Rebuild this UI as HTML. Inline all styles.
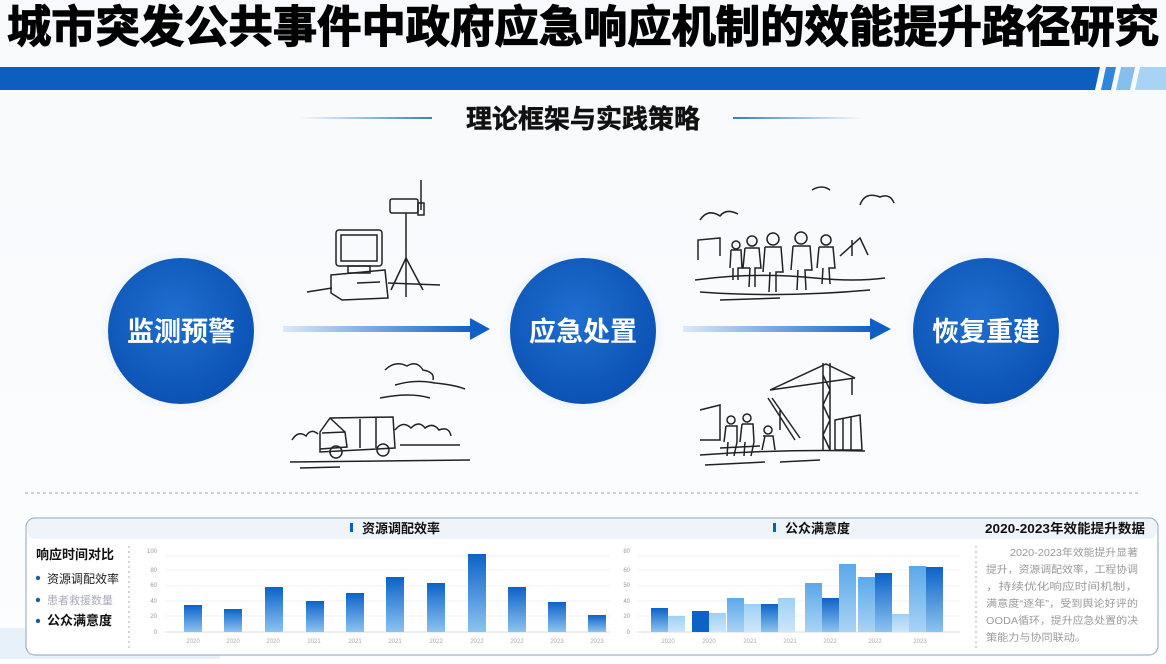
<!DOCTYPE html>
<html><head><meta charset="utf-8"><style>
html,body{margin:0;padding:0;background:#fff}
body{width:1166px;height:659px;overflow:hidden;font-family:"Liberation Sans","Noto Sans CJK SC",sans-serif}
</style></head><body>
<svg width="1166" height="659" viewBox="0 0 1166 659" xmlns="http://www.w3.org/2000/svg" font-family="'Liberation Sans','Noto Sans CJK SC',sans-serif">
<defs>
<linearGradient id="bg" x1="0" y1="0" x2="0" y2="1"><stop offset="0" stop-color="#f7f9fc"/><stop offset="1" stop-color="#fcfdfe"/></linearGradient>
<radialGradient id="glow" cx="0.5" cy="0.5" r="0.5"><stop offset="0.6" stop-color="#d6e6f7"/><stop offset="1" stop-color="#d6e6f7" stop-opacity="0"/></radialGradient>
<radialGradient id="circ" cx="0.45" cy="0.4" r="0.6"><stop offset="0" stop-color="#1f6fd0"/><stop offset="1" stop-color="#0b52b4"/></radialGradient>
<linearGradient id="arr" x1="0" x2="1"><stop offset="0" stop-color="#dbeaf8"/><stop offset="1" stop-color="#0f5fc4"/></linearGradient>
<linearGradient id="bar" x1="0" y1="0" x2="0" y2="1"><stop offset="0" stop-color="#0c62c8"/><stop offset="1" stop-color="#8cc3f0"/></linearGradient>
<linearGradient id="barL" x1="0" y1="0" x2="0" y2="1"><stop offset="0" stop-color="#9ed0f5"/><stop offset="1" stop-color="#cde6fa"/></linearGradient>
<linearGradient id="barM" x1="0" y1="0" x2="0" y2="1"><stop offset="0" stop-color="#5aa8ea"/><stop offset="1" stop-color="#a9d3f5"/></linearGradient>
<linearGradient id="hl" x1="0" x2="1"><stop offset="0" stop-color="#3a7cc8" stop-opacity="0"/><stop offset="1" stop-color="#3a7cc8"/></linearGradient>
<linearGradient id="hr" x1="0" x2="1"><stop offset="0" stop-color="#3a7cc8"/><stop offset="1" stop-color="#3a7cc8" stop-opacity="0"/></linearGradient>
</defs>
<rect width="1166" height="659" fill="url(#bg)"/>
<!-- title -->
<text x="583" y="42" text-anchor="middle" font-size="44" font-weight="bold" fill="#000" stroke="#000" stroke-width="1.2" textLength="1152" lengthAdjust="spacingAndGlyphs">城市突发公共事件中政府应急响应机制的效能提升路径研究</text>
<!-- blue bar -->
<polygon points="0,67 1100,67 1095,90 0,90" fill="#0c5fbf"/>
<polygon points="1106,67 1116,67 1111,90 1101,90" fill="#2f86dd"/>
<polygon points="1121,67 1135,67 1130,90 1116,90" fill="#86bfee"/>
<polygon points="1140,67 1166,67 1166,90 1135,90" fill="#a9d3f5"/>
<!-- subtitle -->
<rect x="300" y="117" width="132" height="2" fill="url(#hl)"/>
<rect x="733" y="117" width="130" height="2" fill="url(#hr)"/>
<text x="583" y="128" text-anchor="middle" font-size="26" font-weight="bold" fill="#111" stroke="#111" stroke-width="0.5">理论框架与实践策略</text>
<!-- circles -->
<g>
<circle cx="181" cy="331" r="82" fill="url(#glow)"/>
<circle cx="181" cy="331" r="73" fill="url(#circ)"/>
<text x="181" y="341" text-anchor="middle" font-size="27" font-weight="bold" fill="#fff">监测预警</text>
<circle cx="583" cy="331" r="82" fill="url(#glow)"/>
<circle cx="583" cy="331" r="73" fill="url(#circ)"/>
<text x="583" y="341" text-anchor="middle" font-size="27" font-weight="bold" fill="#fff">应急处置</text>
<circle cx="986" cy="331" r="82" fill="url(#glow)"/>
<circle cx="986" cy="331" r="73" fill="url(#circ)"/>
<text x="986" y="341" text-anchor="middle" font-size="27" font-weight="bold" fill="#fff">恢复重建</text>
</g>
<!-- arrows -->
<rect x="283" y="326" width="190" height="6" fill="url(#arr)"/>
<polygon points="470,318 490,329 470,340" fill="#0f5fc4"/>
<rect x="683" y="326" width="190" height="6" fill="url(#arr)"/>
<polygon points="870,318 891,329 870,340" fill="#0f5fc4"/>
<!-- sketches -->
<g fill="none" stroke="#222" stroke-width="1.5">
<line x1="307" y1="292" x2="332" y2="288"/>
<line x1="388" y1="283" x2="440" y2="285"/>
<rect x="336" y="230" width="46" height="36" rx="3"/>
<rect x="341" y="235" width="36" height="26"/>
<rect x="348" y="266" width="22" height="7"/>
<path d="M331 275 L385 270 L388 298 L342 300 L331 293 Z"/>
<line x1="357" y1="283" x2="380" y2="282"/>
<line x1="421" y1="180" x2="421" y2="210"/>
<rect x="390" y="199" width="28" height="14" rx="2"/>
<rect x="418" y="203" width="6" height="12"/>
<line x1="406" y1="213" x2="406" y2="258"/>
<line x1="406" y1="258" x2="391" y2="290"/>
<line x1="406" y1="258" x2="406" y2="297"/>
<line x1="406" y1="258" x2="423" y2="290"/>
<path d="M292 440 q6 -10 14 -4 q5 -8 12 -2 M395 430 q8 -10 16 -2 q8 -8 14 0 q8 -6 14 2 q10 -4 12 6 M400 445 L460 445"/>
<path d="M385 370 q10 -10 22 -4 q10 -6 16 4 q12 2 10 10 M395 385 q20 -6 40 -2 q20 2 30 6 M380 398 q30 -6 50 0"/>
<path d="M320 432 L330 418 L393 417 L395 448 L320 452 Z"/>
<path d="M322 433 L345 432 L347 447 L320 449"/>
<line x1="330" y1="418" x2="345" y2="432"/>
<line x1="360" y1="419" x2="360" y2="448"/>
<line x1="376" y1="418" x2="376" y2="448"/>
<circle cx="336" cy="452" r="6"/><circle cx="383" cy="450" r="6"/>
<path d="M290 462 L470 460 M300 468 L340 467"/>
<path d="M700 220 q8 -12 20 -4 q6 -8 18 -2 M860 205 q5 -14 20 -8 q10 -4 14 6 M812 190 q10 -6 18 0"/>
<path d="M698 260 L698 240 L720 238 L720 256 M840 256 L860 238 L868 255 M852 240 L852 256"/>
<path d="M695 280 q60 -8 120 -2 q40 4 70 0 M700 292 q80 6 170 -2 M720 300 l60 -2"/>
<g>
<circle cx="736" cy="245" r="4"/><path d="M731 250 L741 250 L742 268 L738 268 L738 280 M733 268 L733 280 M731 250 L730 268"/>
<circle cx="752" cy="241" r="5"/><path d="M745 248 L759 248 L761 268 L755 268 L755 287 M750 268 L749 287 M745 248 L743 268 L750 268"/>
<circle cx="773" cy="239" r="6"/><path d="M765 247 L781 247 L783 272 L776 272 L776 292 M770 272 L769 292 M765 247 L763 272"/>
<circle cx="801" cy="238" r="6"/><path d="M793 246 L810 246 L812 270 L805 270 L806 290 M798 270 L797 290 M793 246 L791 270"/>
<circle cx="826" cy="240" r="5"/><path d="M819 247 L833 247 L835 268 L829 268 L830 284 M823 268 L822 284 M819 247 L817 268"/>
</g>
<path d="M823 363 L823 450 M830 363 L830 450 M823 375 L830 390 L823 405 L830 420 L823 435 L830 450"/>
<path d="M770 390 L855 378 M770 390 L826 364 L855 378 M852 378 L852 395"/>
<path d="M768 398 L795 440 M772 398 L800 438 M780 410 L780 430"/>
<path d="M835 420 L860 415 L862 450 L835 450 Z M843 418 L843 450 M851 416 L851 450"/>
<path d="M700 410 L720 405 L720 440 L700 440"/>
<circle cx="731" cy="420" r="4"/><path d="M726 426 L737 426 L737 442 L734 456 M728 442 L727 456 M726 426 L724 442"/>
<circle cx="747" cy="418" r="4"/><path d="M742 424 L753 424 L754 442 L751 456 M745 442 L744 456 M742 424 L740 442"/>
<circle cx="768" cy="430" r="4"/><path d="M763 436 L773 436 L775 450 M765 436 L762 450"/>
<path d="M700 455 q80 -6 165 -4 M705 465 l60 -3 M780 462 l40 -2 M720 448 l40 -2"/>
</g>
<line x1="25" y1="493" x2="1141" y2="493" stroke="#9ab" stroke-width="1" stroke-dasharray="3,3"/>
<rect x="0" y="628" width="220" height="31" fill="#e7f1fa"/>
<rect x="26" y="518" width="1132" height="137" rx="9" fill="#fff" stroke="#9fb4c8" stroke-width="1.2"/>
<rect x="27" y="519" width="1130" height="20" rx="8" fill="#eef4fa"/>
<text x="36" y="559" font-size="13" font-weight="bold" fill="#111">响应时间对比</text>
<circle cx="38" cy="578" r="2.2" fill="#1a5ea8"/><text x="47" y="583" font-size="12" fill="#222">资源调配效率</text>
<circle cx="38" cy="600" r="2.2" fill="#1a5ea8"/><text x="47" y="604" font-size="11" fill="#aab">患者救援数量</text>
<circle cx="38" cy="621" r="2.2" fill="#1a5ea8"/><text x="47" y="625" font-size="13" font-weight="bold" fill="#111">公众满意度</text>
<line x1="129" y1="546" x2="129" y2="650" stroke="#aab" stroke-dasharray="2,3"/>
<rect x="350" y="523" width="3" height="9" fill="#0c5fbf"/>
<text x="362" y="533" font-size="13" font-weight="bold" fill="#111">资源调配效率</text>
<g font-size="6" fill="#999" text-anchor="end">
<text x="157" y="553">100</text><text x="157" y="572">80</text><text x="157" y="587">60</text><text x="157" y="603">40</text><text x="157" y="618">20</text><text x="157" y="634">0</text>
</g>
<g stroke="#eef1f4"><line x1="165" y1="556" x2="610" y2="556"/><line x1="165" y1="570" x2="610" y2="570"/><line x1="165" y1="586" x2="610" y2="586"/><line x1="165" y1="601" x2="610" y2="601"/><line x1="165" y1="616" x2="610" y2="616"/></g>
<line x1="165" y1="632" x2="610" y2="632" stroke="#ddd"/>
<g fill="url(#bar)">
<rect x="184" y="605" width="18" height="27"/>
<rect x="224" y="609" width="18" height="23"/>
<rect x="265" y="587" width="18" height="45"/>
<rect x="306" y="601" width="18" height="31"/>
<rect x="346" y="593" width="18" height="39"/>
<rect x="386" y="577" width="18" height="55"/>
<rect x="427" y="583" width="18" height="49"/>
<rect x="468" y="554" width="18" height="78"/>
<rect x="508" y="587" width="18" height="45"/>
<rect x="548" y="602" width="18" height="30"/>
<rect x="588" y="615" width="18" height="17"/>
</g>
<g font-size="6" fill="#aaa" text-anchor="middle">
<text x="193" y="643">2020</text><text x="233" y="643">2020</text><text x="273" y="643">2020</text><text x="314" y="643">2021</text><text x="355" y="643">2021</text><text x="395" y="643">2021</text><text x="436" y="643">2022</text><text x="477" y="643">2022</text><text x="517" y="643">2022</text><text x="557" y="643">2023</text><text x="597" y="643">2023</text>
</g>
<rect x="773" y="523" width="3" height="9" fill="#0c5fbf"/>
<text x="785" y="533" font-size="13" font-weight="bold" fill="#111">公众满意度</text>
<g font-size="6" fill="#999" text-anchor="end">
<text x="630" y="553">80</text><text x="630" y="572">60</text><text x="630" y="587">50</text><text x="630" y="603">40</text><text x="630" y="618">20</text><text x="630" y="634">0</text>
</g>
<g stroke="#eef1f4"><line x1="637" y1="556" x2="960" y2="556"/><line x1="637" y1="570" x2="960" y2="570"/><line x1="637" y1="586" x2="960" y2="586"/><line x1="637" y1="601" x2="960" y2="601"/><line x1="637" y1="616" x2="960" y2="616"/></g>
<line x1="637" y1="632" x2="960" y2="632" stroke="#ddd"/>
<rect x="651" y="608" width="17" height="24" fill="url(#bar)"/>
<rect x="668" y="616" width="17" height="16" fill="url(#barL)"/>
<rect x="692" y="611" width="17" height="21" fill="#0d62c6"/>
<rect x="709" y="613" width="17" height="19" fill="url(#barL)"/>
<rect x="727" y="598" width="17" height="34" fill="url(#barM)"/>
<rect x="744" y="604" width="17" height="28" fill="url(#barL)"/>
<rect x="761" y="604" width="17" height="28" fill="url(#bar)"/>
<rect x="778" y="598" width="17" height="34" fill="url(#barL)"/>
<rect x="805" y="583" width="17" height="49" fill="url(#barM)"/>
<rect x="822" y="598" width="17" height="34" fill="url(#bar)"/>
<rect x="839" y="564" width="17" height="68" fill="url(#barM)"/>
<rect x="858" y="577" width="17" height="55" fill="url(#barM)"/>
<rect x="875" y="573" width="17" height="59" fill="url(#bar)"/>
<rect x="892" y="614" width="17" height="18" fill="url(#barL)"/>
<rect x="909" y="566" width="17" height="66" fill="url(#barM)"/>
<rect x="926" y="567" width="17" height="65" fill="url(#bar)"/>
<g font-size="6" fill="#aaa" text-anchor="middle">
<text x="668" y="643">2020</text><text x="709" y="643">2020</text><text x="750" y="643">2021</text><text x="790" y="643">2021</text><text x="830" y="643">2022</text><text x="875" y="643">2022</text><text x="920" y="643">2023</text>
</g>
<line x1="976" y1="546" x2="976" y2="650" stroke="#aab" stroke-dasharray="2,3"/>
<text x="985" y="533" font-size="13" font-weight="bold" fill="#111" textLength="160" lengthAdjust="spacingAndGlyphs">2020-2023年效能提升数据</text>
<g font-size="10" fill="#9a9a9a">
<text x="1010" y="556" textLength="128" lengthAdjust="spacingAndGlyphs">2020-2023年效能提升显著</text>
<text x="986" y="573" textLength="152" lengthAdjust="spacingAndGlyphs">提升，资源调配效率，工程协调</text>
<text x="986" y="590" textLength="152" lengthAdjust="spacingAndGlyphs">，持续优化响应时间机制，</text>
<text x="986" y="607" textLength="152" lengthAdjust="spacingAndGlyphs">满意度“逐年”，受到舆论好评的</text>
<text x="986" y="624" textLength="152" lengthAdjust="spacingAndGlyphs">OODA循环，提升应急处置的决</text>
<text x="986" y="641" textLength="100" lengthAdjust="spacingAndGlyphs">策能力与协同联动。</text>
</g>
</svg>
</body></html>
